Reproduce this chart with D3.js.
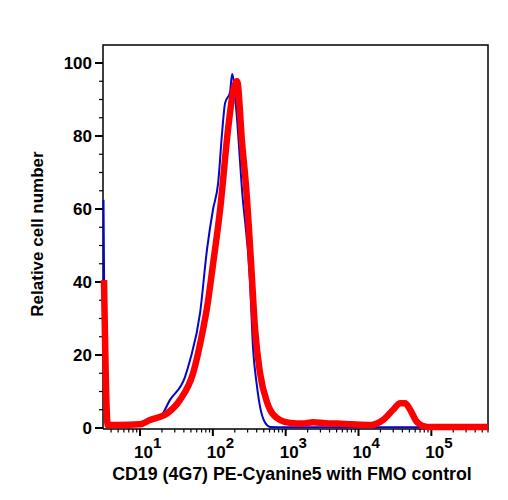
<!DOCTYPE html>
<html>
<head>
<meta charset="utf-8">
<script src="https://cdn.jsdelivr.net/npm/d3@7"></script>
<style>
  body { margin: 0; background: #fff; }
  text { font-family: "Liberation Sans", Arial, sans-serif; font-weight: bold; fill: #000; }
</style>
</head>
<body>
<script>
// FMO control (thin blue) and stained sample (thick red) histograms
const controlX = [3.15, 3.4, 5, 10, 13.7, 18.8, 25.8, 41.5, 48.6, 66.7, 83.2, 100.7, 118, 134, 147, 172, 184, 208, 252, 324, 356, 400, 445, 520, 611, 1000, 10000, 600000];
const controlY = [62.5, 0.5, 0.5, 1.4, 2, 3, 7.7, 14, 18.6, 31.5, 49, 60, 67, 81, 89, 92, 97, 88, 65, 40, 22, 12, 5.8, 1.5, 0.3, 0.2, 0.2, 0.2];

const stainedX = [3.2, 3.6, 5, 10, 13.7, 23.5, 35.4, 53.5, 73.3, 83.2, 100.7, 126, 162, 189, 215, 252, 286, 335, 380, 445, 556, 611, 837, 1148, 1700, 2377, 3500, 5082, 8000, 14420, 21780, 29850, 37240, 43650, 51170, 63830, 87500, 600000];
const stainedY = [40.5, 0.8, 0.8, 1, 2.2, 4, 7.7, 15, 27, 33, 45, 60, 82, 92, 95, 78, 66, 45, 27, 15, 7, 5, 2.2, 1.4, 1.2, 1.6, 1.3, 1.2, 1, 0.8, 2.2, 5, 6.8, 6.8, 5, 1.6, 0.3, 0.3];

const yTicks = [0, 20, 40, 60, 80, 100];
const xDecades = [1, 2, 3, 4, 5];

const width = 508, height = 500;
const plotL = 103, plotR = 488, plotT = 45, plotB = 429;

const svg = d3.select("body").append("svg")
    .attr("width", width)
    .attr("height", height);

const x = d3.scaleLog()
    .domain([3.1, 600000])
    .range([plotL, plotR]);

const y = d3.scaleLinear()
    .domain([0, 100])
    .range([428, 63]);

// frame
svg.append("path")
    .attr("d", `M${plotL},${plotB}V${plotT}H${plotR}V${plotB}H${plotL}`)
    .attr("fill", "none")
    .attr("stroke", "#000")
    .attr("stroke-width", 1.5);

// y ticks, minor every 5
const minorY = d3.range(0, 105, 5);
svg.selectAll(".ytick")
    .data(minorY)
    .enter()
    .append("line")
    .attr("x1", d => d % 20 === 0 ? plotL - 8 : plotL - 4)
    .attr("x2", plotL)
    .attr("y1", d => y(d))
    .attr("y2", d => y(d))
    .attr("stroke", "#000")
    .attr("stroke-width", d => d % 20 === 0 ? 2 : 1.2);

svg.selectAll(".ylab")
    .data(yTicks)
    .enter()
    .append("text")
    .attr("x", 92)
    .attr("y", d => y(d))
    .attr("dy", "0.36em")
    .attr("text-anchor", "end")
    .style("font-size", "17px")
    .text(d => d);

// x ticks: minor 2..9 in each decade, major at powers of ten
let minorX = [];
for (let e = 0; e <= 5; e++) {
  for (let m = 1; m <= 9; m++) {
    const v = m * Math.pow(10, e);
    if (v >= 3.1 && v <= 600000) minorX.push(v);
  }
}
const isMajor = d => Math.abs(Math.log10(d) % 1) < 1e-9;
svg.selectAll(".xtick")
    .data(minorX)
    .enter()
    .append("line")
    .attr("x1", d => x(d))
    .attr("x2", d => x(d))
    .attr("y1", plotB)
    .attr("y2", d => isMajor(d) ? plotB + 7 : plotB + 3.5)
    .attr("stroke", "#000")
    .attr("stroke-width", d => isMajor(d) ? 2 : 1.2);

const xl = svg.selectAll(".xlab")
    .data(xDecades)
    .enter()
    .append("text")
    .attr("x", d => x(Math.pow(10, d)) - 6)
    .attr("y", 458)
    .style("font-size", "17px");
xl.append("tspan").text("10");
xl.append("tspan")
    .attr("dy", -10)
    .style("font-size", "15px")
    .text(d => d);

// curves
const line = d3.line()
    .x(d => x(d[0]))
    .y(d => y(d[1]))
    .curve(d3.curveMonotoneX);

svg.append("path")
    .datum(controlX.map((v, i) => [v, controlY[i]]))
    .attr("d", line)
    .attr("fill", "none")
    .attr("stroke", "#0505c8")
    .attr("stroke-width", 2);

svg.append("path")
    .datum(stainedX.map((v, i) => [v, stainedY[i]]))
    .attr("d", line)
    .attr("fill", "none")
    .attr("stroke", "#ff0000")
    .attr("stroke-width", 6.5)
    .attr("stroke-linejoin", "round");

// axis titles
svg.append("text")
    .attr("x", 292)
    .attr("y", 480)
    .attr("text-anchor", "middle")
    .style("font-size", "17.8px")
    .text("CD19 (4G7) PE-Cyanine5 with FMO control");

svg.append("text")
    .attr("transform", "translate(43,234) rotate(-90)")
    .attr("text-anchor", "middle")
    .style("font-size", "17px")
    .text("Relative cell number");
</script>
</body>
</html>
